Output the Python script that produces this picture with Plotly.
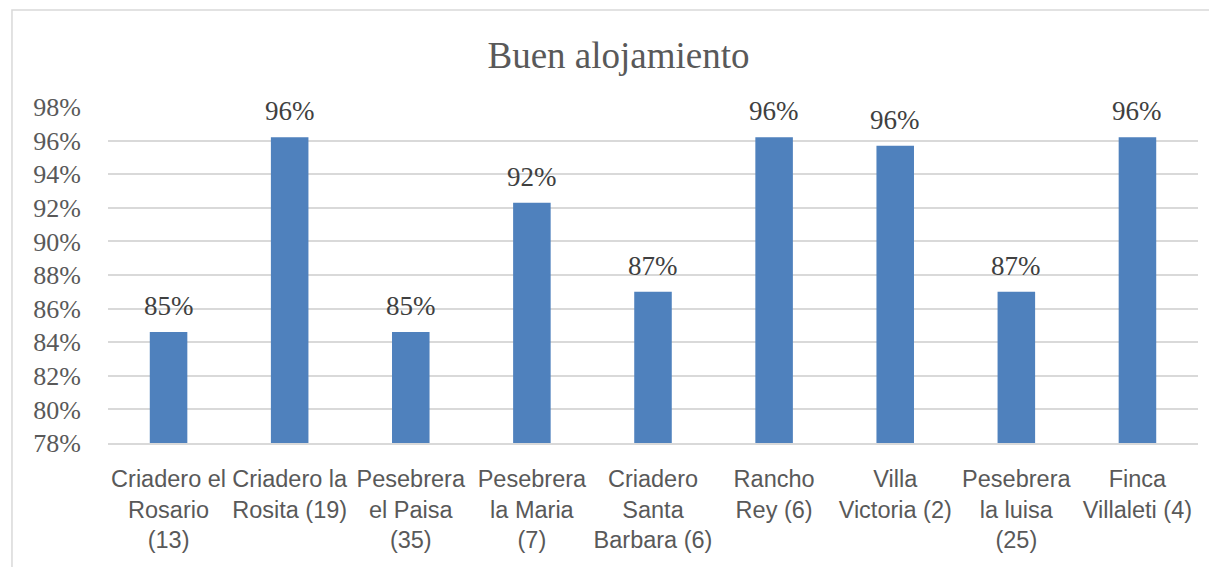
import plotly.graph_objects as go

# Chart data
categories = [
    "Criadero el<br>Rosario<br>(13)",
    "Criadero la<br>Rosita (19)",
    "Pesebrera<br>el Paisa<br>(35)",
    "Pesebrera<br>la Maria<br>(7)",
    "Criadero<br>Santa<br>Barbara (6)",
    "Rancho<br>Rey (6)",
    "Villa<br>Victoria (2)",
    "Pesebrera<br>la luisa<br>(25)",
    "Finca<br>Villaleti (4)",
]
values = [84.6, 96.2, 84.6, 92.3, 87.0, 96.2, 95.7, 87.0, 96.2]
labels = ["85%", "96%", "85%", "92%", "87%", "96%", "96%", "87%", "96%"]
y_ticks = list(range(78, 100, 2))
y_tick_text = [f"{t}%" for t in y_ticks]

serif = "Liberation Serif, Times New Roman, serif"
sans = "Liberation Sans, Arial, sans-serif"

fig = go.Figure(go.Bar(
    x=categories,
    y=values,
    width=0.31,
    marker=dict(color="#4F81BD", line=dict(width=0)),
    hoverinfo="skip",
))

# Data labels above bars
for cat, val, lab in zip(categories, values, labels):
    fig.add_annotation(x=cat, y=val, text=lab, showarrow=False,
                       yanchor="bottom", yshift=9,
                       font=dict(family=serif, size=27, color="#404040"))

# Chart area border (cut off on right and bottom like the reference)
fig.add_shape(type="rect", xref="paper", yref="paper",
              x0=-0.0881, x1=1.2, y0=-0.6, y1=1.2887,
              line=dict(color="#D9D9D9", width=1.5), layer="below")

# page body has an 8px margin, so the figure is shrunk by 8px on the left/top
fig.update_layout(
    width=1209, height=559,
    margin=dict(l=100, r=19, t=99, b=124),
    paper_bgcolor="white", plot_bgcolor="white",
    showlegend=False,
    title=dict(text="Buen alojamiento", x=0.505, xanchor="center",
               xref="container", y=0.915, yanchor="middle",
               font=dict(family=serif, size=37, color="#595959")),
    bargap=0.69,
)
fig.update_xaxes(
    tickangle=0, showgrid=False, showline=True, linecolor="#D9D9D9",
    linewidth=1.5, ticks="", ticklabelstandoff=14,
    tickfont=dict(family=sans, size=23.5, color="#595959"),
)
fig.update_yaxes(
    range=[78, 98], tickvals=y_ticks, ticktext=y_tick_text,
    showgrid=True, gridcolor="#D9D9D9", gridwidth=1.5, zeroline=False,
    showline=False, ticks="", ticklabelstandoff=26,
    tickfont=dict(family=serif, size=26, color="#595959"),
)

fig.write_html("out.html")
